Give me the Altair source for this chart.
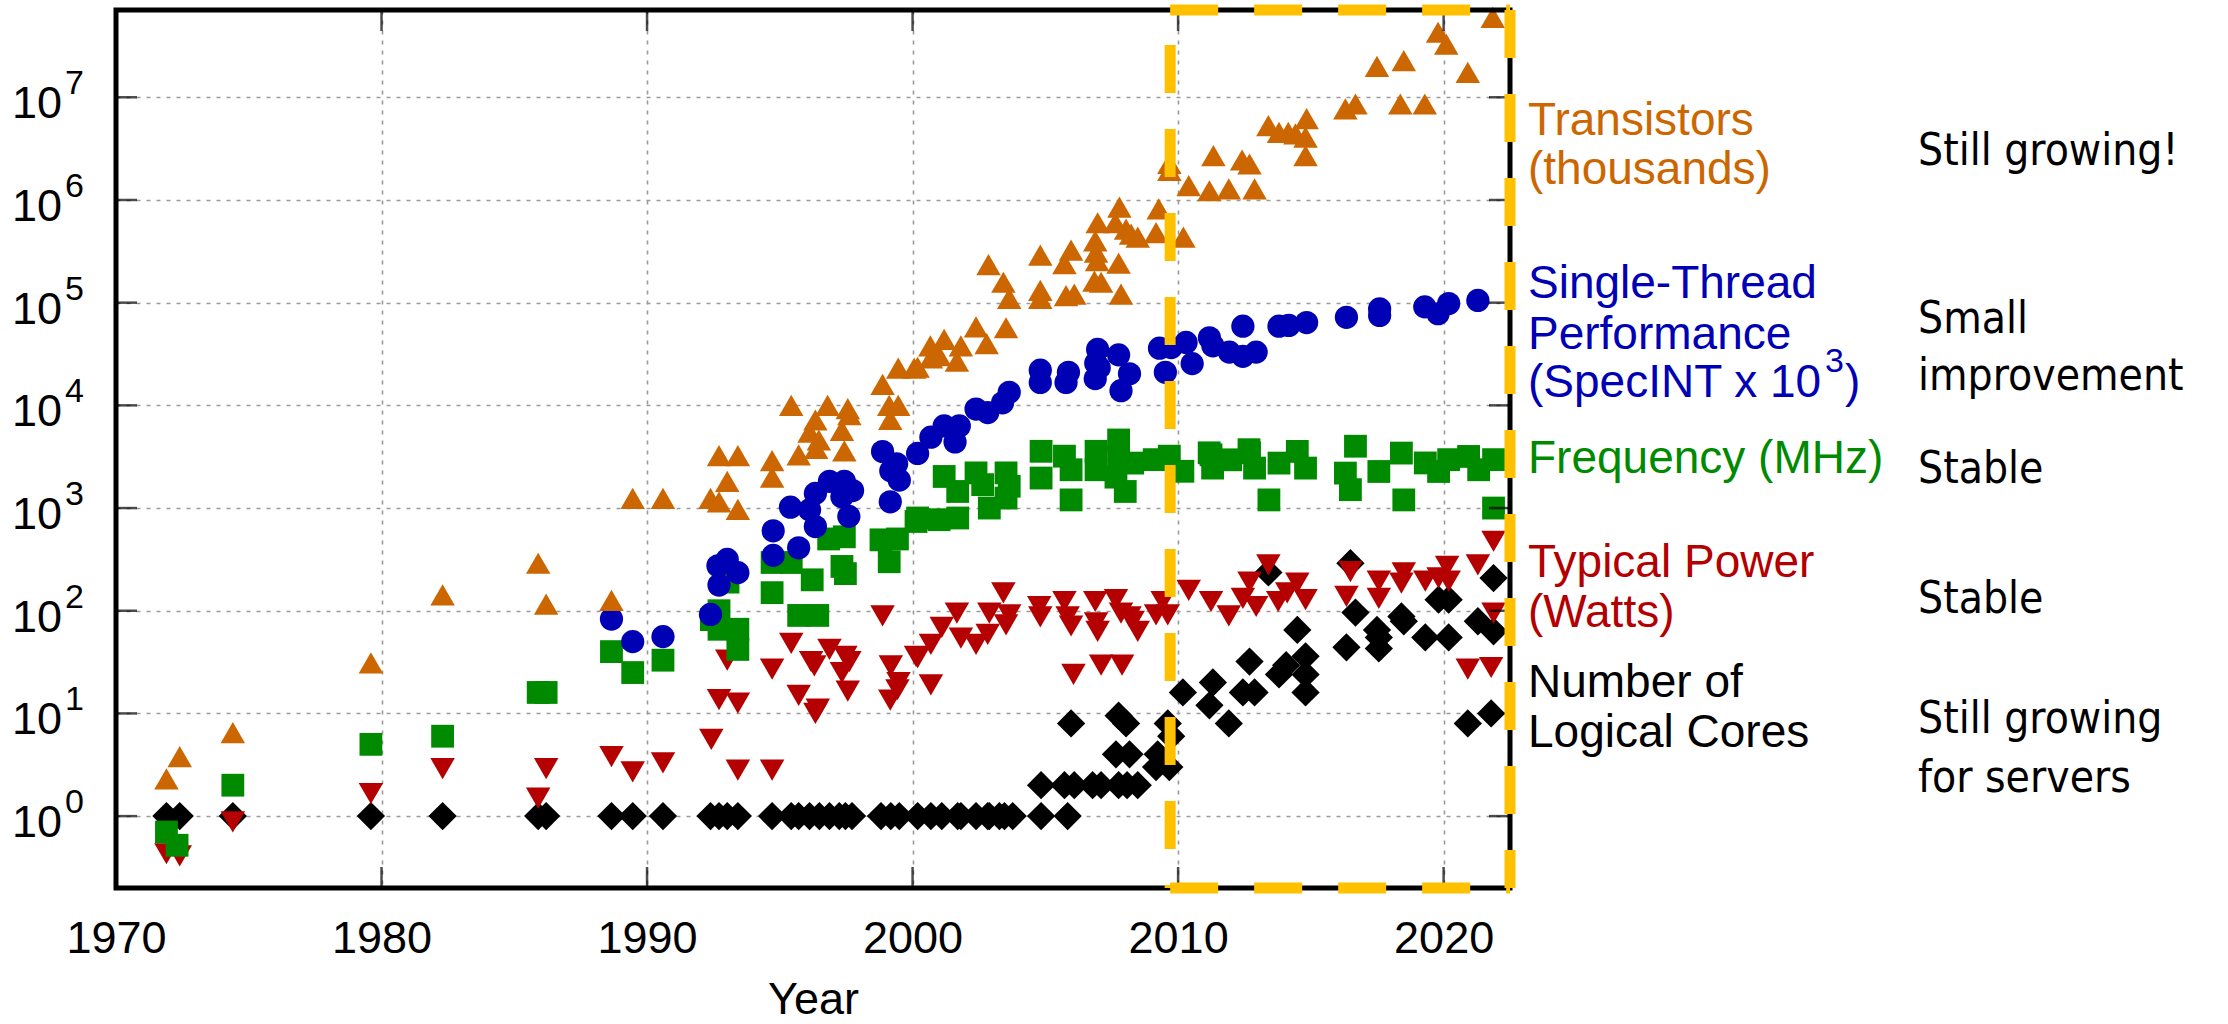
import altair as alt
import pandas as pd

# ---------------- data ----------------
tr_year = [1971.9, 1972.4, 1974.4, 1979.6, 1982.3, 1985.9, 1986.2, 1988.66, 1989.46, 1990.6,
           1992.39, 1992.71, 1992.71, 1993.02, 1993.42, 1993.42, 1994.71, 1994.71, 1995.43, 1995.71,
           1996.12, 1996.34, 1996.37, 1996.47, 1996.8, 1997.34, 1997.43, 1997.56, 1997.62, 1998.87,
           1999.12, 1999.16, 1999.46, 1999.46, 2000.06, 2000.19, 2000.67, 2000.69, 2001.0, 2001.19,
           2001.67, 2001.82, 2002.39, 2002.79, 2002.86, 2003.42, 2003.52, 2003.64, 2004.81, 2004.81,
           2004.81, 2005.72, 2005.78, 2005.97, 2006.09, 2006.85, 2006.88, 2006.91, 2006.95, 2006.97,
           2007.1, 2007.64, 2007.76, 2007.79, 2007.85, 2008.04, 2008.23, 2008.48, 2009.17, 2009.27,
           2009.67, 2009.67, 2010.2, 2010.4, 2011.18, 2011.33, 2011.91, 2012.41, 2012.69, 2012.88,
           2013.4, 2013.8, 2014.15, 2014.42, 2014.8, 2014.8, 2014.84, 2016.3, 2016.68, 2017.49,
           2018.37, 2018.5, 2019.29, 2019.79, 2020.1, 2020.91, 2021.85]
tr_val = [2.3, 3.8, 6.5, 31, 143, 290, 116, 126, 1240, 1240,
          1240, 3240, 1150, 1820, 3240, 970, 2900, 2000, 10000, 3300,
          5500, 7200, 3800, 4600, 10000, 5700, 3600, 9300, 8100, 16000,
          10000, 7300, 23000, 10000, 23000, 23500, 38000, 29000, 30500, 44000,
          27000, 38000, 58000, 40000, 235000, 158000, 57000, 110000, 290000, 132000,
          110000, 240000, 117000, 325000, 121000, 162000, 400000, 310000, 257000, 600000,
          158000, 600000, 242000, 850000, 121000, 520000, 465000, 435000, 480000, 820000,
          2270000, 1940000, 435000, 1380000, 1230000, 2700000, 1280000, 2450000, 2240000, 1280000,
          5300000, 4550000, 4550000, 4400000, 4100000, 2700000, 6200000, 7700000, 8600000, 20000000,
          8600000, 22700000, 8600000, 43000000, 33000000, 17500000, 60000000]

st_year = [1988.66, 1989.46, 1990.6, 1992.39, 1992.67, 1992.71, 1993.02, 1993.42, 1994.75, 1994.75,
           1995.4, 1995.71, 1996.12, 1996.34, 1996.34, 1996.87, 1997.34, 1997.43, 1997.6, 1997.74,
           1998.87, 1999.16, 1999.18, 1999.4, 1999.5, 2000.19, 2000.69, 2001.19, 2001.6, 2001.76,
           2002.39, 2002.83, 2003.39, 2003.64, 2004.81, 2004.81, 2005.78, 2005.87, 2006.88, 2006.9,
           2006.97, 2007.03, 2007.76, 2007.85, 2008.17, 2009.3, 2009.52, 2009.74, 2010.3, 2010.53,
           2011.18, 2011.31, 2011.93, 2012.44, 2012.44, 2012.94, 2013.8, 2014.17, 2014.84, 2016.34,
           2017.59, 2017.59, 2019.29, 2019.79, 2020.19, 2021.29]
st_val = [83, 50, 56, 92, 274, 178, 316, 235, 346, 600,
          1020, 410, 960, 660, 1390, 1820, 1290, 1820, 830, 1480,
          3550, 1150, 2300, 2700, 1870, 3400, 4900, 6300, 4400, 6300,
          9200, 8500, 10600, 13400, 22000, 16700, 16700, 21000, 18200, 25700,
          35000, 23300, 31000, 13900, 20300, 36000, 21000, 36500, 41000, 25500,
          45500, 38000, 33000, 59000, 30000, 33000, 59000, 60000, 64000, 72000,
          87000, 75000, 91000, 78000, 98000, 105000]

fr_year = [1971.9, 1972.3, 1974.4, 1979.6, 1982.3, 1985.9, 1986.2, 1988.66, 1989.46, 1990.6,
           1992.42, 1992.71, 1992.71, 1993.05, 1993.42, 1993.42, 1994.71, 1994.71, 1995.43, 1995.71,
           1996.22, 1996.43, 1996.84, 1997.34, 1997.43, 1997.47, 1998.81, 1999.12, 1999.43, 2000.13,
           2000.19, 2001.0, 2001.19, 2001.7, 2001.7, 2002.39, 2002.64, 2002.89, 2003.52, 2003.52,
           2003.64, 2004.84, 2004.84, 2005.72, 2005.97, 2005.97, 2006.91, 2006.91, 2007.66, 2007.76,
           2007.76, 2008.01, 2008.29, 2009.1, 2009.67, 2010.18, 2011.17, 2011.24, 2011.3, 2011.98,
           2012.67, 2012.69, 2012.88, 2013.42, 2013.8, 2014.49, 2014.8, 2016.3, 2016.49, 2016.68,
           2017.56, 2018.41, 2018.5, 2019.31, 2019.81, 2020.19, 2020.94, 2021.32, 2021.88, 2021.88]
fr_val = [0.70, 0.52, 2.0, 5.0, 6.0, 16, 16, 40, 25, 33,
          82, 66, 100, 190, 66, 42, 295, 150, 295, 90,
          200, 90, 500, 270, 525, 230, 490, 300, 500, 740,
          800, 770, 2030, 800, 1450, 2200, 1690, 1000, 2200, 1250,
          1630, 3570, 1960, 3200, 2360, 1200, 3570, 2360, 2000, 4600,
          3200, 1450, 2740, 2960, 3200, 2280, 3450, 3300, 2450, 2950,
          3700, 3450, 2450, 1200, 2740, 3560, 2450, 2190, 1510, 4000,
          2270, 3430, 1200, 2750, 2270, 2960, 3180, 2360, 2960, 1000]

pw_year = [1971.9, 1972.4, 1974.4, 1979.6, 1982.3, 1985.9, 1986.2, 1988.66, 1989.46, 1990.6,
           1992.42, 1992.71, 1993.02, 1993.42, 1993.42, 1994.71, 1994.71, 1995.43, 1995.71, 1996.18,
           1996.3, 1996.34, 1996.43, 1996.87, 1997.34, 1997.47, 1997.56, 1997.62, 1998.87, 1999.16,
           1999.18, 1999.43, 1999.47, 2000.13, 2000.19, 2000.69, 2000.69, 2001.1, 2001.67, 2001.82,
           2002.39, 2002.83, 2002.89, 2003.42, 2003.52, 2003.64, 2004.77, 2004.81, 2005.72, 2005.84,
           2005.97, 2006.06, 2006.88, 2006.91, 2006.97, 2007.1, 2007.66, 2007.85, 2007.89, 2008.17,
           2008.29, 2008.48, 2009.17, 2009.42, 2009.61, 2010.4, 2011.24, 2011.91, 2012.44, 2012.69,
           2012.94, 2013.4, 2013.77, 2014.11, 2014.49, 2014.8, 2016.34, 2016.49, 2017.56, 2017.56,
           2018.41, 2018.5, 2019.31, 2019.81, 2020.13, 2020.19, 2020.91, 2021.29, 2021.79, 2021.88,
           2021.88]
pw_val = [0.43, 0.41, 0.88, 1.66, 2.9, 1.5, 2.9, 3.8, 2.7, 3.3,
          5.6, 13.6, 33, 12.6, 2.8, 2.8, 27, 48, 15, 32,
          29, 10, 11, 42, 25, 36, 16.5, 32, 89, 13.5,
          29, 17, 20, 36, 35, 19, 47, 69, 95, 54,
          47, 59, 95, 149, 73, 91, 110, 87, 123, 87,
          71, 24, 123, 76, 63, 29.5, 128, 95, 29.5, 87,
          79, 63, 91, 123, 91, 158, 123, 89, 132, 190,
          110, 280, 123, 149, 186, 128, 138, 240, 194, 132,
          186, 234, 194, 209, 270, 194, 27, 280, 28, 475,
          95]

co_year = [1971.9, 1972.4, 1974.4, 1979.6, 1982.3, 1985.9, 1986.2, 1988.66, 1989.46, 1990.6,
           1992.39, 1992.71, 1993.02, 1993.42, 1994.71, 1995.43, 1995.71, 1996.12, 1996.49, 1996.87,
           1997.24, 1997.47, 1997.72, 1998.81, 1999.18, 1999.5, 2000.19, 2000.69, 2001.1, 2001.7,
           2001.82, 2002.39, 2002.83, 2002.89, 2003.27, 2003.46, 2003.77, 2004.84, 2005.84,
           2004.84, 2005.72, 2006.09, 2006.78, 2007.1, 2007.76, 2008.08, 2008.48,
           2005.97, 2007.76, 2008.04, 2007.66, 2008.17, 2009.23, 2009.17, 2009.67, 2009.61, 2009.74,
           2010.18, 2011.31, 2011.18, 2011.91, 2012.69, 2012.44, 2012.88, 2013.4, 2014.49, 2014.8,
           2014.07, 2013.8, 2014.8, 2014.8, 2016.49, 2016.68, 2016.34, 2017.49, 2017.56, 2017.56,
           2018.41, 2018.5, 2019.31, 2019.81, 2020.19, 2020.19, 2021.29, 2021.88, 2021.88, 2020.91,
           2021.79]
co_val = [1, 1, 1, 1, 1, 1, 1, 1, 1, 1,
          1, 1, 1, 1, 1, 1, 1, 1, 1, 1,
          1, 1, 1, 1, 1, 1, 1, 1, 1, 1,
          1, 1, 1, 1, 1, 1, 1, 1, 1,
          2, 2, 2, 2, 2, 2, 2, 2,
          8, 9.5, 8, 4, 4, 4, 3, 3, 8, 6,
          16, 20, 12, 8, 32, 16, 16, 236, 65, 36,
          29.5, 24, 24, 16, 290, 96, 44, 65, 55, 43,
          88, 79, 55, 128, 128, 55, 79, 208, 63, 8,
          10]

x_tick_years = [1970, 1980, 1990, 2000, 2010, 2020]
y_tick_exps = [0, 1, 2, 3, 4, 5, 6, 7]
box_start_year = 2009.7

series_labels = [["Transistors", "(thousands)"],
                 ["Single-Thread", "Performance", "(SpecINT x 10"],
                 ["Frequency (MHz)"],
                 ["Typical Power", "(Watts)"],
                 ["Number of", "Logical Cores"]]
comments = [["Still growing!"], ["Small", "improvement"], ["Stable"], ["Stable"],
            ["Still growing", "for servers"]]

# ---------------- layout / style ----------------
W, H = 1394, 878
XDOM = [1970, 2022.5]
YDOM = [10 ** -0.7, 10 ** 7.85]
ORANGE, BLUE, GREEN, RED, BLACK = "#CC6600", "#0000B4", "#008A00", "#B40000", "#000000"
YELLOW = "#FFC000"
FONT = "Liberation Sans"
CFONT = "DejaVu Sans Condensed, DejaVu Sans"

xs = alt.Scale(domain=XDOM, nice=False, zero=False)
ys = alt.Scale(type="log", domain=YDOM, nice=False)

AX = alt.Axis(values=x_tick_years, grid=True, gridColor="#9a9a9a", gridDash=[4, 6], gridWidth=1.6,
              domain=False, ticks=False, tickSize=0, labelFont=FONT, labelFontSize=45,
              labelColor="black", labelPadding=28, labelFlush=False, labelOverlap=False,
              format="d", title="Year", titleFont=FONT, titleFontSize=45,
              titleFontWeight="normal", titleColor="black", titlePadding=16)
AY = alt.Axis(values=[10 ** k for k in y_tick_exps], grid=True, gridColor="#9a9a9a",
              gridDash=[4, 6], gridWidth=1.6, labels=False, ticks=False, domain=False, title=None)


def X(field):
    return alt.X(field, scale=xs, axis=AX, title="Year")


def Y(field):
    return alt.Y(field, scale=ys, axis=AY, title=None)


def pts(years, vals, shape, color, size):
    df = pd.DataFrame({"year": years, "value": vals})
    return alt.Chart(df).mark_point(shape=shape, filled=True, size=size, color=color,
                                    opacity=1).encode(x=X("year:Q"), y=Y("value:Q"))


layers = [
    pts(co_year, co_val, "diamond", BLACK, 800),
    pts(pw_year, pw_val, "triangle-down", RED, 600),
    pts(fr_year, fr_val, "square", GREEN, 520),
    pts(st_year, st_val, "circle", BLUE, 540),
    pts(tr_year, tr_val, "triangle-up", ORANGE, 600),
]

# inward ticks on all four sides
xt = pd.DataFrame({"year": x_tick_years[1:]})
yt = pd.DataFrame({"value": [10 ** k for k in y_tick_exps], "exp": [str(k) for k in y_tick_exps]})
for yv in (H - 10.5, 10.5):
    layers.append(alt.Chart(xt).mark_tick(orient="vertical", color="black", thickness=2.5, size=21)
                  .encode(x=X("year:Q"), y=alt.value(yv)))
for xv in (10.5, W - 10.5):
    layers.append(alt.Chart(yt).mark_tick(orient="horizontal", color="black", thickness=2.5, size=21)
                  .encode(y=Y("value:Q"), x=alt.value(xv)))

# y tick labels 10^k
layers.append(alt.Chart(yt).mark_text(align="right", baseline="alphabetic", font=FONT, fontSize=45,
                                      dy=21, color="black")
              .encode(y=Y("value:Q"), x=alt.value(-54), text=alt.value("10")))
layers.append(alt.Chart(yt).mark_text(align="left", baseline="alphabetic", font=FONT, fontSize=34,
                                      dy=-3, color="black")
              .encode(y=Y("value:Q"), x=alt.value(-51), text="exp:N"))

# frame
frame_df = pd.DataFrame({"k": [0]})
layers.append(alt.Chart(frame_df).mark_rect(fillOpacity=0, stroke="black", strokeWidth=5)
              .encode(x=alt.value(0), x2=alt.value(W), y=alt.value(0), y2=alt.value(H)))

# yellow dashed box
box_df = pd.DataFrame({"x1": [box_start_year], "x2": [XDOM[1]]})
rule_kw = dict(color=YELLOW, strokeWidth=11, strokeDash=[48, 36])
layers.append(alt.Chart(box_df).mark_rule(**rule_kw).encode(
    x=X("x1:Q"), x2="x2:Q", y=alt.value(0)))
layers.append(alt.Chart(box_df).mark_rule(**rule_kw).encode(
    x=X("x1:Q"), x2="x2:Q", y=alt.value(H)))
layers.append(alt.Chart(box_df).mark_rule(strokeDashOffset=49, **rule_kw).encode(
    x=X("x1:Q"), y=alt.value(0), y2=alt.value(H)))
layers.append(alt.Chart(box_df).mark_rule(**rule_kw).encode(
    x=X("x2:Q"), y=alt.value(0), y2=alt.value(H)))

# right-hand labels (pixel positions relative to plot origin)
lab_colors = [ORANGE, BLUE, GREEN, RED, BLACK]
lab_baselines = [[125, 174], [288, 339, 387], [463], [567, 617], [687, 737]]
rows = []
for lines, col, bls in zip(series_labels, lab_colors, lab_baselines):
    for t, b in zip(lines, bls):
        rows.append({"text": t, "color": col, "px": 1412, "py": b, "fs": 46})
rows.append({"text": "3", "color": BLUE, "px": 1709, "py": 362, "fs": 34})
rows.append({"text": ")", "color": BLUE, "px": 1729, "py": 387, "fs": 46})
lab_df = pd.DataFrame(rows)
for fs in (46, 34):
    layers.append(alt.Chart(lab_df[lab_df.fs == fs]).mark_text(
        align="left", baseline="alphabetic", font=FONT, fontSize=fs).encode(
        x=alt.X("px:Q", scale=None), y=alt.Y("py:Q", scale=None), text="text:N",
        color=alt.Color("color:N", scale=None)))

com_baselines = [[155], [323, 380], [473], [603], [723, 782]]
crow = []
for lines, bls in zip(comments, com_baselines):
    for t, b in zip(lines, bls):
        crow.append({"text": t, "px": 1802, "py": b})
com_df = pd.DataFrame(crow)
layers.append(alt.Chart(com_df).mark_text(align="left", baseline="alphabetic", font=CFONT,
                                          fontSize=44, color="black").encode(
    x=alt.X("px:Q", scale=None), y=alt.Y("py:Q", scale=None), text="text:N"))

chart = alt.layer(*layers).properties(
    width=W, height=H,
    padding={"left": 116, "top": 10, "right": 718, "bottom": 136},
    autosize=alt.AutoSizeParams(type="none"),
    background="white",
).configure_view(strokeWidth=0)

chart.save("out.html", embed_options={"renderer": "svg", "actions": False})
